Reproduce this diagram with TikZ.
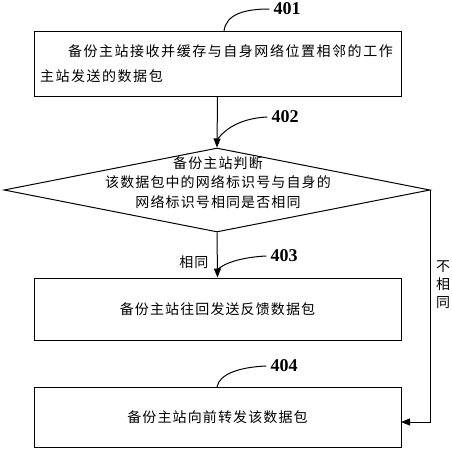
\documentclass[tikz,border=0pt]{standalone}
\usepackage{fontspec}
\setmainfont{Liberation Serif}
\newfontfamily\cj[LetterSpace=8]{Noto Sans CJK SC}
\newfontfamily\cjw[LetterSpace=11]{Noto Sans CJK SC}
\usetikzlibrary{shapes.geometric,arrows.meta}
\begin{document}
\begin{tikzpicture}[x=1pt,y=-1pt,
  box/.style={draw,line width=1pt,minimum width=367pt,inner sep=0pt},
  txt/.style={font=\cj\fontsize{14}{19.5}\selectfont},
  num/.style={font=\bfseries\fontsize{18}{18}\selectfont,inner xsep=4pt,inner ysep=0pt},
  flow/.style={line width=1pt,-{Triangle[length=9pt,width=7pt]}},
  lead/.style={line width=1pt}]
\useasboundingbox (0,0) rectangle (452,450);
% boxes
\node[box,minimum height=65pt,font=\cjw\fontsize{14}{25}\selectfont,align=left,text width=355pt] (b1) at (217.5,63.5)
  {\hspace*{28pt}备份主站接收并缓存与自身网络位置相邻的工作\\主站发送的数据包};
\node[diamond,draw,line width=1pt,minimum width=426pt,minimum height=84pt,inner sep=0pt] (d) at (217,190) {};
\node[txt,align=center] (dt) at (218,182.5) {备份主站判断\\该数据包中的网络标识号与自身的\\网络标识号相同是否相同};
\node[box,minimum height=62pt,txt] (b3) at (217.5,309) {备份主站往回发送反馈数据包};
\node[box,minimum height=60pt,txt] (b4) at (217.5,417) {备份主站向前转发该数据包};
% connectors
\draw[flow] (b1.south) -- (d.north);
\draw[flow] (d.south) -- node[pos=0.65,left=5pt,txt] (same) {相同} (b3.north);
\coordinate (in4) at (401,422);
\draw[flow] (d.east) -- (d.east |- in4) -- (in4);
\node[font=\cj\fontsize{14}{18}\selectfont,align=center] (nt) at (443,285) {不\\相\\同};
% step labels
\node[num] (n401) at (287,9) {401};
\coordinate (c401) at (224,31);
\draw[lead] (c401) .. controls (226,14) and (245,9) .. (n401.west);
\node[num] (n402) at (285,117) {402};
\coordinate (c402) at (217,140);
\draw[lead] (c402) .. controls (227,126) and (245,118) .. (n402.west);
\node[num] (n403) at (284,256) {403};
\coordinate (c403) at (217,270);
\draw[lead] (c403) .. controls (225,262) and (245,257) .. (n403.west);
\node[num] (n404) at (284,366) {404};
\coordinate (c404) at (217,387);
\draw[lead] (c404) .. controls (219,374) and (240,367) .. (n404.west);
\end{tikzpicture}
\end{document}
